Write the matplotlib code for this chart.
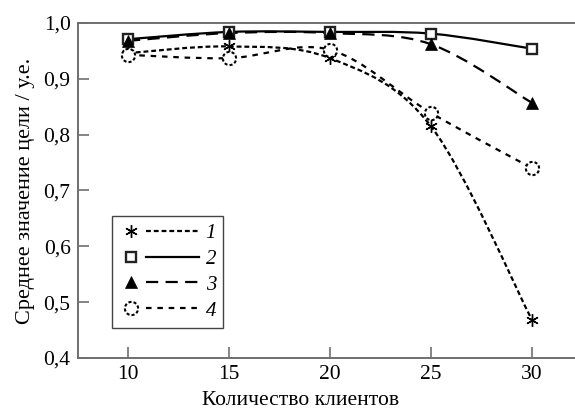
import numpy as np
import matplotlib
matplotlib.use("Agg")
import matplotlib.pyplot as plt
from matplotlib.path import Path
from matplotlib.patches import PathPatch
from matplotlib.lines import Line2D
from matplotlib.legend_handler import HandlerBase
from matplotlib.ticker import FuncFormatter

# Data
clients = [10, 15, 20, 25, 30]
series_1 = [0.946, 0.958, 0.937, 0.815, 0.468]
series_2 = [0.971, 0.984, 0.984, 0.981, 0.954]
series_3 = [0.968, 0.982, 0.982, 0.962, 0.857]
series_4 = [0.943, 0.937, 0.952, 0.839, 0.740]
labels = ['1', '2', '3', '4']
x_ticks = [10, 15, 20, 25, 30]
y_ticks = [0.4, 0.5, 0.6, 0.7, 0.8, 0.9, 1.0]

plt.rcParams['font.family'] = ['Liberation Serif', 'DejaVu Serif']
plt.rcParams['font.size'] = 14

GREY = '#6f6f6f'


def smooth_path(x, y):
    """Catmull-Rom style Bezier path through the points."""
    pts = np.column_stack([x, y]).astype(float)
    n = len(pts)
    verts = [pts[0]]
    codes = [Path.MOVETO]
    for i in range(n - 1):
        p0 = pts[i - 1] if i > 0 else pts[i]
        p1 = pts[i]
        p2 = pts[i + 1]
        p3 = pts[i + 2] if i + 2 < n else pts[i + 1]
        c1 = p1 + (p2 - p0) / 6.0
        c2 = p2 - (p3 - p1) / 6.0
        verts += [c1, c2, p2]
        codes += [Path.CURVE4] * 3
    return Path(verts, codes)


def dashed_ring(n=8, frac=0.6):
    """Circle outline broken into n arcs, used as a marker."""
    step = 360.0 / n
    arcs = [Path.arc(k * step, k * step + frac * step) for k in range(n)]
    return Path.make_compound_path(*arcs)


class MarkerThenLine(HandlerBase):
    """Legend entry: marker on the left, line segment on the right."""
    def create_artists(self, legend, orig_handle, xdescent, ydescent,
                       width, height, fontsize, trans):
        markers, line = orig_handle
        y = height / 2.0 - ydescent
        arts = []
        for mk in markers:
            a = Line2D([-xdescent + 0.15 * width], [y])
            a.update_from(mk)
            a.set_transform(trans)
            arts.append(a)
        ln = Line2D([-xdescent + 0.34 * width, -xdescent + width], [y, y])
        ln.update_from(line)
        ln.set_transform(trans)
        arts.append(ln)
        return arts


fig = plt.figure(figsize=(5.75, 4.11), dpi=100)
ax = fig.add_axes([77.5 / 575, 53 / 411, 1 - 77.5 / 575, 335 / 411])

ring = dashed_ring()
marker_kw = {
    'x': [dict(marker=(6, 2, 0), markersize=9, mec='black', mew=1.0)],
    's': [dict(marker='s', markersize=7.8, mfc='white', mec='#222222', mew=1.7)],
    '^': [dict(marker='^', markersize=9, mfc='black', mec='black', mew=0.5)],
    'o': [dict(marker='o', markersize=9.5, mfc='white', mec='none'),
          dict(marker=ring, markersize=9.5, mfc='none', mec='black', mew=1.5)],
}

styles = [
    dict(y=series_1, ls=(0, (2.2, 1.3)), marker='x'),
    dict(y=series_2, ls='-', marker='s'),
    dict(y=series_3, ls=(0, (5.5, 3.3)), marker='^'),
    dict(y=series_4, ls=(0, (2.5, 2.6)), marker='o'),
]

handles = []
for st in styles:
    patch = PathPatch(smooth_path(clients, st['y']), fill=False,
                      edgecolor='black', lw=1.6, linestyle=st['ls'], zorder=2)
    ax.add_patch(patch)
    mk_handles = []
    for kw in marker_kw[st['marker']]:
        ax.plot(clients, st['y'], linestyle='none', zorder=3, **kw)
        mk_handles.append(Line2D([], [], linestyle='none', **kw))
    line_h = Line2D([], [], color='black', lw=1.6, linestyle=st['ls'])
    handles.append((mk_handles, line_h))

ax.set_xlim(7.5, 32.13)
ax.set_ylim(0.4, 1.0)
ax.set_xticks(x_ticks)
ax.set_yticks(y_ticks)
ax.yaxis.set_major_formatter(FuncFormatter(lambda v, p: f'{v:.1f}'.replace('.', ',')))

for side in ['left', 'bottom', 'top']:
    ax.spines[side].set_color(GREY)
    ax.spines[side].set_linewidth(1.4)
ax.spines['right'].set_visible(False)
ax.tick_params(direction='in', length=8, width=1.2, color=GREY,
               labelsize=15.5, pad=5)

ax.set_xlabel('Количество клиентов', fontsize=15.5, labelpad=5)
ax.xaxis.label.set_x(0.448)
ax.set_ylabel('Среднее значение цели / у.е.', fontsize=16, labelpad=6)

leg = ax.legend(handles, labels, handler_map={tuple: MarkerThenLine()},
                loc='lower left', bbox_to_anchor=(0.069, 0.09), borderaxespad=0,
                handlelength=3.85, handletextpad=0.3, labelspacing=0.3,
                fancybox=False, framealpha=1, edgecolor='#444444',
                borderpad=0.35, prop={'style': 'italic', 'size': 15})
leg.get_frame().set_linewidth(1.0)

fig.savefig('out.png', dpi=100)
